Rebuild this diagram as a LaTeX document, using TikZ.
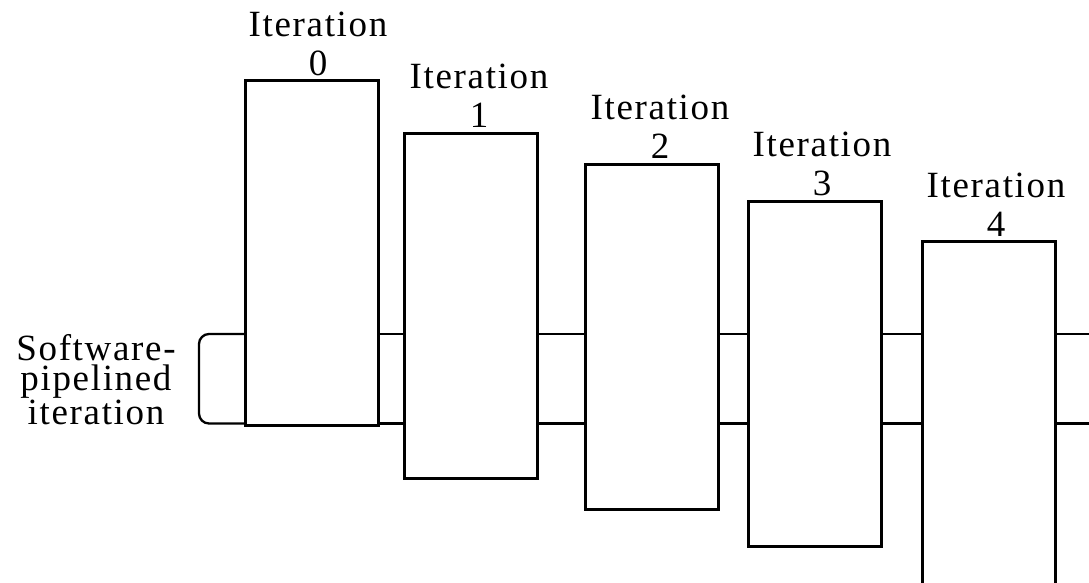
\documentclass[tikz,border=0pt]{standalone}
\usepackage{fontspec}
\setmainfont{Liberation Serif}[LetterSpace=4.5]
\begin{document}
\begin{tikzpicture}[x=1pt,y=-1pt,
  stage/.style={draw, fill=white, line width=3.3pt, inner sep=0pt,
    minimum width=133pt, minimum height=345pt, anchor=north west},
  iterlabel/.style={align=center, inner sep=0pt, anchor=base,
    font=\fontsize{37}{39}\selectfont},
  sidelabel/.style={align=center, inner sep=0pt, anchor=base,
    font=\fontsize{37}{30.5}\selectfont},
  flow/.style={line width=2.3pt}]
\clip (0,0) rectangle (1089,582);

% levels of the two horizontal rails
\coordinate (ytop) at (0,334);
\coordinate (ybot) at (0,423.5);

% the overlapping iteration blocks
\node[stage] (b0) at (244,78.5)  {};
\node[stage] (b1) at (403,131.5) {};
\node[stage] (b2) at (584,162.5) {};
\node[stage] (b3) at (747,199.5) {};
\node[stage, minimum height=380pt] (b4) at (921,240) {};

% right ends of the rails
\coordinate (etop) at (1089,334);
\coordinate (ebot) at (1089,423.5);

% rails between consecutive blocks
\foreach \a/\b in {b0/b1,b1/b2,b2/b3,b3/b4}{
  \draw[flow] (\a.east |- ytop) -- (\b.west |- ytop);
  \draw[flow] (\a.east |- ybot) -- (\b.west |- ybot);
}
\draw[flow] (b4.east |- ytop) -- (etop);
\draw[flow] (b4.east |- ybot) -- (ebot);

% bracket marking one software-pipelined iteration
\draw[flow, rounded corners=10pt] (b0.west |- ytop) -- (199,334) -- (199,423.5) -- (b0.west |- ybot);

% labels (base anchor sits on the last line)
\node[iterlabel] (l0) at (318,75)  {Iteration\\0};
\node[iterlabel] (l1) at (479,127) {Iteration\\1};
\node[iterlabel] (l2) at (660,158) {Iteration\\2};
\node[iterlabel] (l3) at (822,195) {Iteration\\3};
\node[iterlabel] (l4) at (996,236) {Iteration\\4};
\node[sidelabel] (side) at (96,424) {Software-\\pipelined\\iteration};
\end{tikzpicture}
\end{document}
